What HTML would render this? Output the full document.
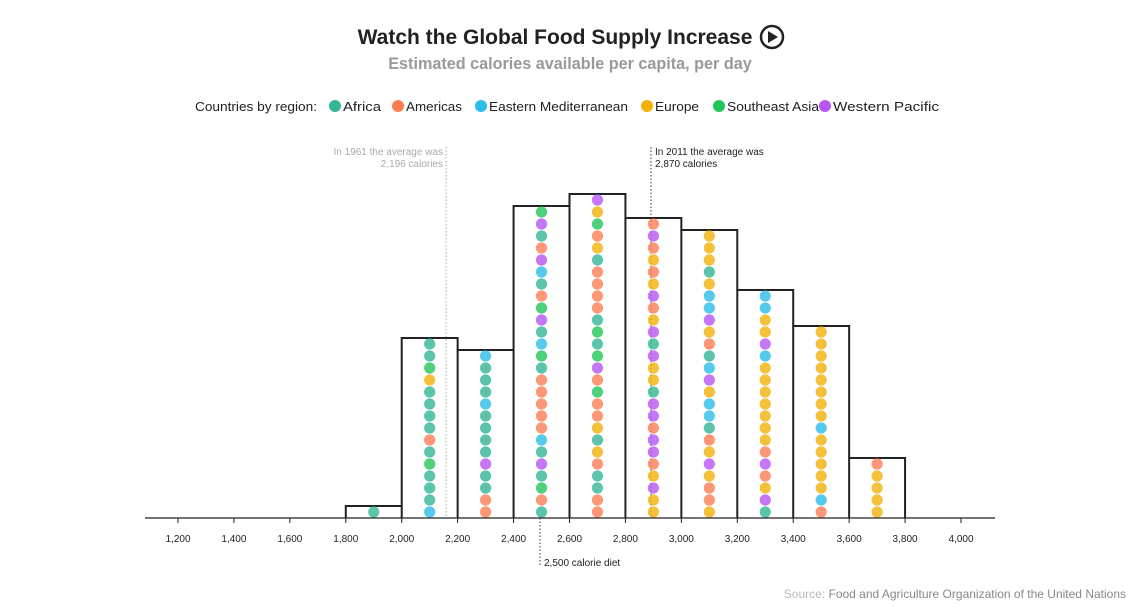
<!DOCTYPE html>
<html><head><meta charset="utf-8">
<style>
body{margin:0;background:#fff;font-family:"Liberation Sans",sans-serif;}
svg{display:block}
</style></head>
<body>
<svg width="1141" height="616" viewBox="0 0 1141 616">
<text x="555" y="44" text-anchor="middle" font-size="21" font-weight="bold" fill="#222">Watch the Global Food Supply Increase</text>
<g>
<circle cx="772" cy="37" r="11" fill="none" stroke="#222" stroke-width="2.5"/>
<path d="M768,31 L778,37 L768,43 Z" fill="#222"/>
</g>
<text x="570" y="69" text-anchor="middle" font-size="16.2" font-weight="bold" fill="#999">Estimated calories available per capita, per day</text>
<g id="legend" font-size="13" fill="#222">
<text x="195" y="111" textLength="122" lengthAdjust="spacingAndGlyphs">Countries by region:</text>
</g>
<g id="annot" font-size="10">
<line x1="446" y1="147" x2="446" y2="518" stroke="#aaa" stroke-dasharray="1.5,2"/>
<text x="443" y="155" text-anchor="end" fill="#aaa">In 1961 the average was</text>
<text x="443" y="167" text-anchor="end" fill="#aaa">2,196 calories</text>
<line x1="651" y1="147" x2="651" y2="518" stroke="#333" stroke-dasharray="1.5,2"/>
<text x="655" y="155" fill="#222">In 2011 the average was</text>
<text x="655" y="167" fill="#222">2,870 calories</text>
<line x1="540" y1="518" x2="540" y2="567" stroke="#333" stroke-dasharray="1.5,2"/>
<text x="544" y="566" fill="#222">2,500 calorie diet</text>
</g>
<g id="bars"></g>
<g id="dots"></g>
<g id="axis" font-size="10" fill="#222"></g>
<text x="1126" y="598" text-anchor="end" font-size="12" fill="#888"><tspan fill="#bbb">Source:</tspan> Food and Agriculture Organization of the United Nations</text>
</svg>
<script>
const regionNames=["Africa","Americas","Eastern Mediterranean","Europe","Southeast Asia","Western Pacific"];
const regionCodes=["A","M","E","U","S","W"];
const regionColors=["#35b597","#fc7d52","#2cbde8","#f3b10a","#22c55a","#b756f4"];
const binStarts=[1800,2000,2200,2400,2600,2800,3000,3200,3400,3600];
// dots listed top to bottom
const binDots=[
"A",
"AASUAAAAMASAAAE",
"EAAAEAAAAWAAMM",
"SWAMWEAMSWAESAMMMMMEAWASMA",
"WUSMUAMMMMASASWMSMMUAUMAAMM",
"MWMUMUWMUWAWUUAWWMWWMUWUU",
"UUUAUEEWUMAEWUEEAMUWUMMU",
"EEUUWEUUUUUUUMWMUWA",
"UUUUUUUUEUUUUUEM",
"MUUUU"
];
const tickValues=[1200,1400,1600,1800,2000,2200,2400,2600,2800,3000,3200,3400,3600,3800,4000];
const NS="http://www.w3.org/2000/svg";
const x=v=>178+(v-1200)*(961-178)/2800;
const base=518, step=12;
const y=n=>base-n*step;
function mk(t,a,p){const e=document.createElementNS(NS,t);for(const k in a)e.setAttribute(k,a[k]);p.appendChild(e);return e;}
// legend
const lg=document.getElementById('legend');
const legX=[335,398,481,647,719,825];
const legLen=[38,56,139,44,92,106];
regionNames.forEach((n,i)=>{
  const g=mk('g',{},lg);
  
  
  const lx=legX[i];
  mk('circle',{cx:lx,cy:106,r:6,fill:regionColors[i]},g);
  const t=mk('text',{x:lx+8,y:111,textLength:legLen[i],lengthAdjust:"spacingAndGlyphs"},g);t.textContent=n;
});
// bars
const bg=document.getElementById('bars');
let d="M"+x(1800)+","+base;
binStarts.forEach((s,i)=>{const n=binDots[i].length;d+=" L"+x(s)+","+y(n)+" L"+x(s+200)+","+y(n);});
d+=" L"+x(3800)+","+base;
const p=mk('path',{d:d,fill:"none",stroke:"#222","stroke-width":2},bg);


binStarts.forEach((s,i)=>{const n=binDots[i].length;if(i>0){const pn=binDots[i-1].length;const l=mk('line',{x1:x(s),x2:x(s),y1:base,y2:y(Math.min(n,pn)),stroke:"#222","stroke-width":2},bg);

}});
// dots
const dg=document.getElementById('dots');
binStarts.forEach((s,i)=>{const str=binDots[i];const n=str.length;
  for(let j=0;j<n;j++){const ri=regionCodes.indexOf(str[j]);
    const c=mk('circle',{cx:x(s+100),cy:base-6-(n-1-j)*step,r:5.6,fill:regionColors[ri],"fill-opacity":0.8},dg);
    
    }
});
// axis
const ag=document.getElementById('axis');
const al=mk('line',{x1:145,x2:995,y1:base,y2:base,stroke:"#222","stroke-width":1.2},ag);


tickValues.forEach(v=>{
  const tk=mk('line',{x1:x(v),x2:x(v),y1:base,y2:base+5,stroke:"#222"},ag);
  
  
  const t=mk('text',{x:x(v),y:542,"text-anchor":"middle"},ag);
  t.textContent=v.toLocaleString('en-US');
  
  
});
</script>
</body></html>
